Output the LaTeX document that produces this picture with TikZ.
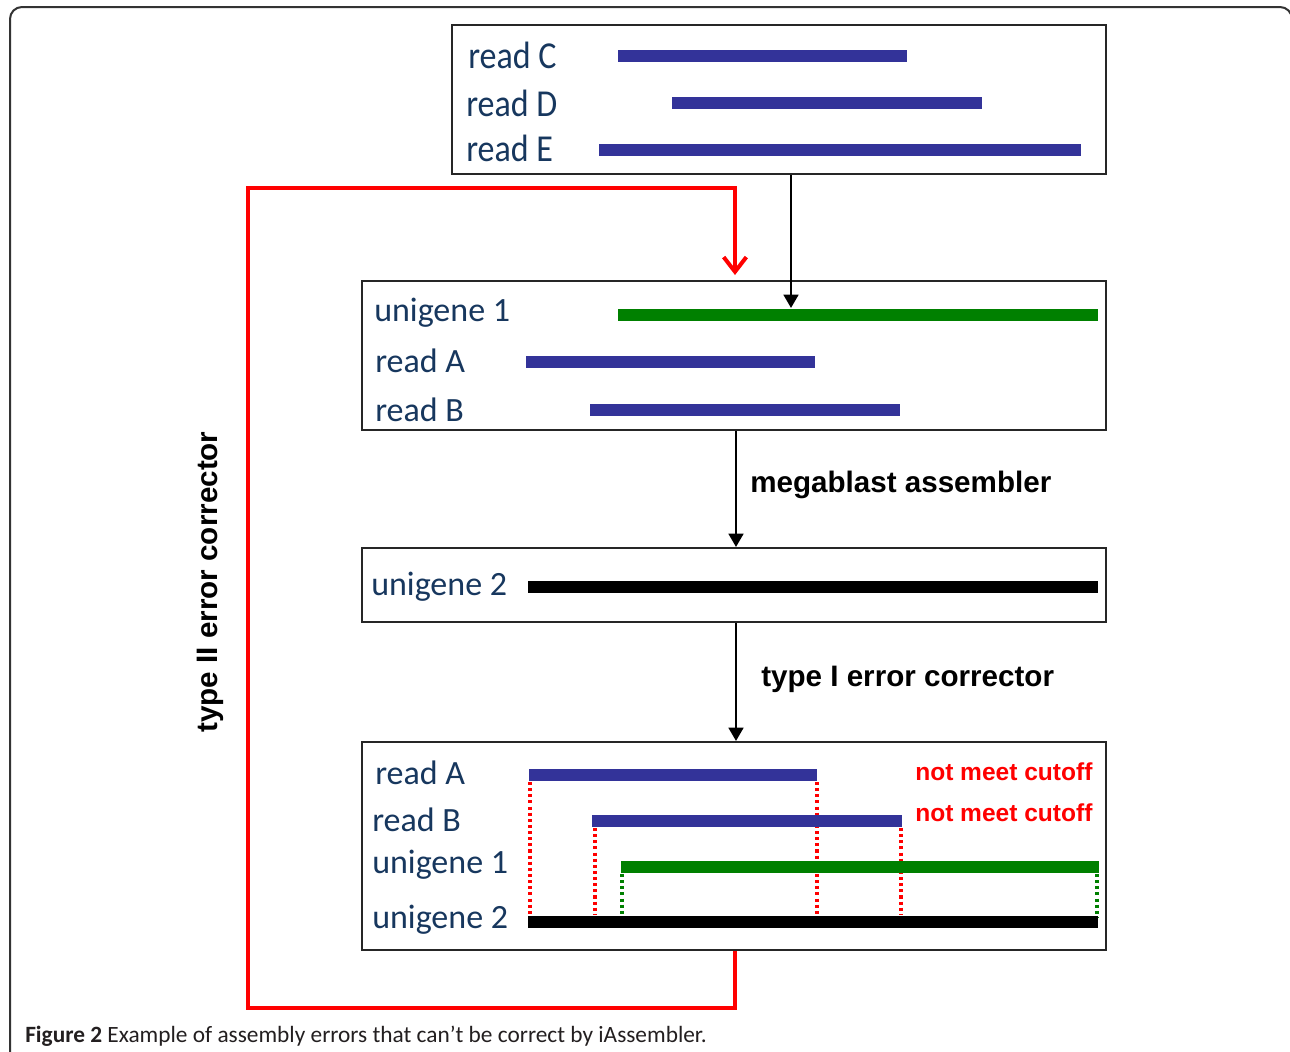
\documentclass[tikz,border=0pt]{standalone}
\usepackage{fontspec}
\setmainfont{Carlito}
\newfontfamily\labelsans{Liberation Sans}
\usetikzlibrary{arrows.meta}
\definecolor{readblue}{HTML}{333399}
\definecolor{genegreen}{HTML}{008000}
\definecolor{labelblue}{HTML}{17375E}
\definecolor{captiongray}{HTML}{231F20}
\newcommand{\tallname}[1]{\scalebox{1}[1.12]{#1}}
\tikzset{
  stage/.style={draw=black!85, line width=1.5pt, anchor=north west, inner sep=0pt},
  seq/.style={font=\fontsize{25.5}{26}\selectfont, text=labelblue, anchor=west, inner sep=0pt},
  readbar/.style={draw=readblue, line width=9pt},
  genebar/.style={draw=genegreen, line width=9pt},
  unibar/.style={draw=black, line width=9pt},
  flow/.style={draw=black, line width=2pt, -{Triangle[length=10pt,width=11pt]}},
  loop/.style={draw=red, line width=3pt, -{Straight Barb[length=11pt,width=17pt,line width=3pt]}},
  steplabel/.style={font=\labelsans\bfseries\fontsize{22.2}{23}\selectfont, anchor=west, inner sep=0pt},
  warn/.style={font=\labelsans\bfseries\fontsize{18.4}{19}\selectfont, text=red, anchor=west, inner sep=0pt},
  reddots/.style={draw=red, line width=2.4pt, dash pattern=on 2.3pt off 2.3pt},
  greendots/.style={draw=genegreen, line width=2.4pt, dash pattern=on 2.3pt off 2.3pt},
}
\begin{document}
\begin{tikzpicture}[x=0.75pt, y=-0.75pt]
\useasboundingbox (0,0) rectangle (1290,1051);
\fill[white] (0,0) rectangle (1290,1051);
% page frame
\begin{scope}
\clip (0,0) rectangle (1290,1051);
\draw[black!80, line width=1.5pt, rounded corners=9pt] (10,7) rectangle (1292,1080);
\end{scope}

% stage boxes
\node[stage, minimum width=490.5pt, minimum height=111.75pt] (b1) at (451,24) {};
\node[stage, minimum width=558pt, minimum height=111.75pt] (b2) at (361,280) {};
\node[stage, minimum width=558pt, minimum height=55.5pt] (b3) at (361,547) {};
\node[stage, minimum width=558pt, minimum height=156pt] (b4) at (361,741) {};

% box 1: reads C, D, E
\node[seq] (lc) at (468,55) {\tallname{read C}};
\node[seq] (ld) at (466,103) {\tallname{read D}};
\node[seq] (le) at (466,148) {\tallname{read E}};
\draw[readbar] (618,56) -- (907,56);
\draw[readbar] (672,103) -- (982,103);
\draw[readbar] (599,150) -- (1081,150);

% box 2: unigene 1 with reads A, B
\node[seq] (l21) at (374,313) {unigene 1};
\node[seq] (l2a) at (375,361) {read A};
\node[seq] (l2b) at (375,410) {read B};
\draw[genebar] (618,315) -- (1098,315);
\coordinate (g1top) at (791,308);
\draw[readbar] (526,362) -- (815,362);
\draw[readbar] (590,410) -- (900,410);

% box 3: unigene 2
\node[seq] (l32) at (371,587) {unigene 2};
\draw[unibar] (528,587) -- (1098,587);

% box 4: alignment check
\node[seq] (l4a) at (375,773) {read A};
\node[seq] (l4b) at (372,820) {read B};
\node[seq] (l41) at (372,865) {unigene 1};
\node[seq] (l42) at (372,920) {unigene 2};
\draw[reddots] (530,782) -- (530,916);
\draw[reddots] (817,782) -- (817,918);
\draw[reddots] (595,828) -- (595,914);
\draw[reddots] (901,828) -- (901,914);
\draw[greendots] (622,874) -- (622,917);
\draw[greendots] (1097,874) -- (1097,917);
\draw[readbar] (529,775) -- (817,775);
\draw[readbar] (592,821) -- (902,821);
\draw[genebar] (621,867) -- (1099,867);
\draw[unibar] (528,922) -- (1098,922);
\node[warn] (w1) at (915,772) {not meet cutoff};
\node[warn] (w2) at (915,813) {not meet cutoff};

% forward flow
\draw[flow] (b1.south -| g1top) -- (g1top);
\draw[flow] (b2.south -| 736,0) -- (b3.north -| 736,0);
\node[steplabel] (s1) at (750,485) {megablast assembler};
\draw[flow] (b3.south -| 736,0) -- (b4.north -| 736,0);
\node[steplabel] (s2) at (761,679) {type I error corrector};

% feedback loop
\coordinate (lpin) at (735,275);
\draw[loop] (b4.south -| lpin) -- (735,1008) -- (248,1008) -- (248,188) -- (735,188) -- (lpin);
\node[steplabel, rotate=90, anchor=center] (s3) at (210,582) {type II error corrector};

% caption
\node[anchor=west, inner sep=0pt, text=captiongray, font=\fontsize{17.5}{18}\selectfont] (cap) at (25,1036)
  {\textbf{Figure 2} Example of assembly errors that can’t be correct by iAssembler.};
\end{tikzpicture}
\end{document}
